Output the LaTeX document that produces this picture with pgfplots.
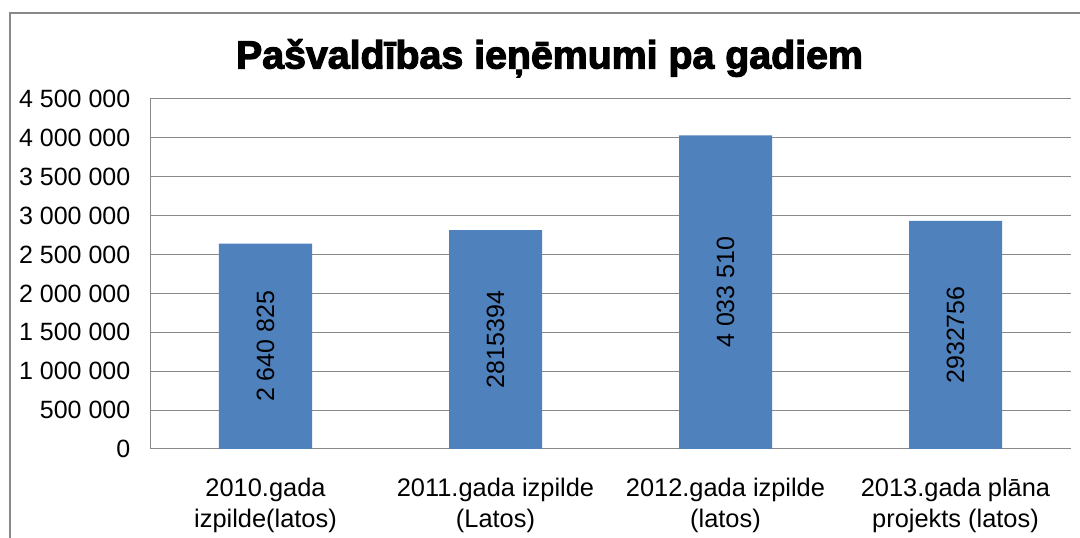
\documentclass[border=0pt]{standalone}
\usepackage{pgfplots}
\pgfplotsset{compat=1.18}
\usepackage{fontspec}
\setmainfont{Liberation Sans}
\newfontfamily\titlefont[BoldFeatures={FakeBold=3}]{Liberation Sans}
\definecolor{barblue}{HTML}{4F81BD}
\definecolor{axgray}{HTML}{898989}
\begin{document}
\begin{tikzpicture}[x=1pt,y=1pt]
\path[use as bounding box] (0,0) rectangle (1080,538);
\draw[axgray, line width=1.2pt] (10,-5) -- (10,525) -- (1085,525);
\node[anchor=base, inner sep=0pt] at (549.5,469.5) {\titlefont\bfseries\fontsize{39.3}{44}\selectfont Pašvaldības ieņēmumi pa gadiem};
\begin{axis}[
  at={(150.5pt,89pt)}, anchor=south west,
  scale only axis, width=920pt, height=350pt,
  xmin=-0.5, xmax=3.5, ymin=0, ymax=4500000,
  axis x line*=bottom, axis y line*=left,
  axis line style={axgray, line width=1pt, -},
  major tick length=0pt,
  ymajorgrids, grid style={axgray, line width=1pt},
  xtick={0,1,2,3},
  xticklabels={{2010.gada\\izpilde(latos)},{2011.gada izpilde\\(Latos)},{2012.gada izpilde\\(latos)},{2013.gada plāna\\projekts (latos)}},
  ytick={0,500000,1000000,1500000,2000000,2500000,3000000,3500000,4000000,4500000},
  yticklabels={0,500 000,1 000 000,1 500 000,2 000 000,2 500 000,3 000 000,3 500 000,4 000 000,4 500 000},
  scaled y ticks=false,
  xticklabel style={align=center, inner sep=0pt, anchor=north, yshift=-29pt, font=\fontsize{25.4}{31}\selectfont},
  yticklabel style={inner sep=0pt, anchor=east, xshift=-20pt, font=\fontsize{25}{30}\selectfont},
  clip=false,
]
\addplot[ybar, bar width=93pt, fill=barblue, draw=none] coordinates {(0,2640825) (1,2815394) (2,4033510) (3,2932756)};
\addplot[draw=none, mark=none, nodes near coords, point meta=explicit symbolic,
  every node near coord/.append style={anchor=center, rotate=90, inner sep=0pt, font=\fontsize{25}{30}\selectfont}]
  coordinates {(0,1320412.5) [2 640 825] (1,1407697) [2815394] (2,2016755) [4 033 510] (3,1466378) [2932756]};
\end{axis}
\end{tikzpicture}
\end{document}
